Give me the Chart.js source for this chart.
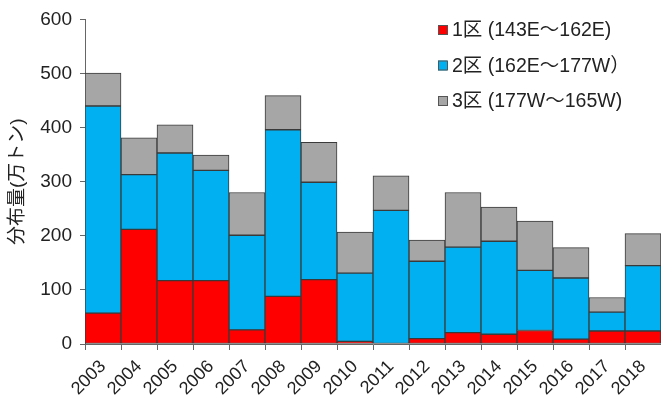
<!DOCTYPE html>
<html>
<head>
<meta charset="utf-8">
<script src="https://cdn.jsdelivr.net/npm/chart.js@4/dist/chart.umd.min.js"></script>
<style>
  html, body { margin: 0; padding: 0; background: #fff; }
  #wrap { width: 661px; height: 405px; }
</style>
</head>
<body>
<div id="wrap"><canvas id="chart" width="661" height="405"></canvas></div>
<script>
const years = ['2003', '2004', '2005', '2006', '2007', '2008', '2009', '2010',
    '2011', '2012', '2013', '2014', '2015', '2016', '2017', '2018'];

// 分布量 (万トン), stacked by area
const area1 = [57, 212, 117, 117, 26, 88, 119, 5, 0, 10, 21, 18, 25, 9, 24, 24];
const area2 = [383, 101, 236, 204, 175, 308, 180, 126, 247, 143, 158, 172, 111, 113, 35, 121];
const area3 = [61, 68, 52, 28, 79, 63, 74, 76, 64, 39, 101, 63, 91, 56, 27, 59];

const seriesNames = ['1区 (143E～162E)', '2区 (162E～177W）', '3区 (177W～165W)'];
const yTicks = [0, 100, 200, 300, 400, 500, 600];

const fontFamily = "'Liberation Sans', Arial, 'Noto Sans CJK JP', sans-serif";
const edge = '#3a3a3a';

// legend drawn in the upper right of the plot
const boxLegend = {
    id: 'boxLegend',
    afterDraw(chart) {
        const ctx = chart.ctx;
        ctx.save();
        ctx.font = '19.5px ' + fontFamily;
        ctx.textBaseline = 'middle';
        chart.data.datasets.forEach((ds, i) => {
            const y = 30 + i * 35.5;
            ctx.fillStyle = ds.backgroundColor;
            ctx.fillRect(438, y - 5, 9, 10);
            ctx.strokeStyle = '#555';
            ctx.lineWidth = 1;
            ctx.strokeRect(438.5, y - 4.5, 9, 9);
            ctx.fillStyle = '#222';
            ctx.fillText(ds.label, 452, y + 1);
        });
        ctx.restore();
    }
};

const ctx = document.getElementById('chart').getContext('2d');
new Chart(ctx, {
    type: 'bar',
    data: {
        labels: years,
        datasets: [
            { label: seriesNames[0], data: area1, backgroundColor: '#ff0000' },
            { label: seriesNames[1], data: area2, backgroundColor: '#00b0f0' },
            { label: seriesNames[2], data: area3, backgroundColor: '#a6a6a6' }
        ].map(d => Object.assign(d, {
            borderColor: edge,
            borderWidth: 1,
            borderSkipped: false,
            categoryPercentage: 1,
            barPercentage: 1
        }))
    },
    options: {
        responsive: false,
        animation: false,
        layout: { padding: { top: 6, right: 0, left: 0, bottom: 0 } },
        plugins: {
            legend: { display: false },
            tooltip: { enabled: false }
        },
        scales: {
            x: {
                stacked: true,
                grid: {
                    display: true,
                    drawOnChartArea: false,
                    tickLength: 6,
                    color: '#666'
                },
                border: { color: '#666', width: 1 },
                ticks: {
                    color: '#222',
                    font: { family: fontFamily, size: 18 },
                    minRotation: 45,
                    maxRotation: 45,
                    autoSkip: false,
                    padding: 6
                },
                afterFit(scale) {
                    scale.height = 61;
                    scale.paddingRight = 0;
                }
            },
            y: {
                stacked: true,
                min: 0,
                max: 600,
                afterBuildTicks(scale) {
                    scale.ticks = yTicks.map(v => ({ value: v }));
                },
                grid: {
                    display: true,
                    drawOnChartArea: false,
                    tickLength: 5,
                    color: '#666'
                },
                border: { color: '#666', width: 1 },
                ticks: {
                    color: '#222',
                    font: { family: fontFamily, size: 19 },
                    padding: 8
                },
                title: {
                    display: true,
                    text: '分布量(万トン)',
                    color: '#222',
                    font: { family: fontFamily, size: 19 },
                    padding: { top: 6, bottom: 0 }
                },
                afterFit(scale) { scale.width = 85; }
            }
        }
    },
    plugins: [boxLegend]
});
</script>
</body>
</html>
